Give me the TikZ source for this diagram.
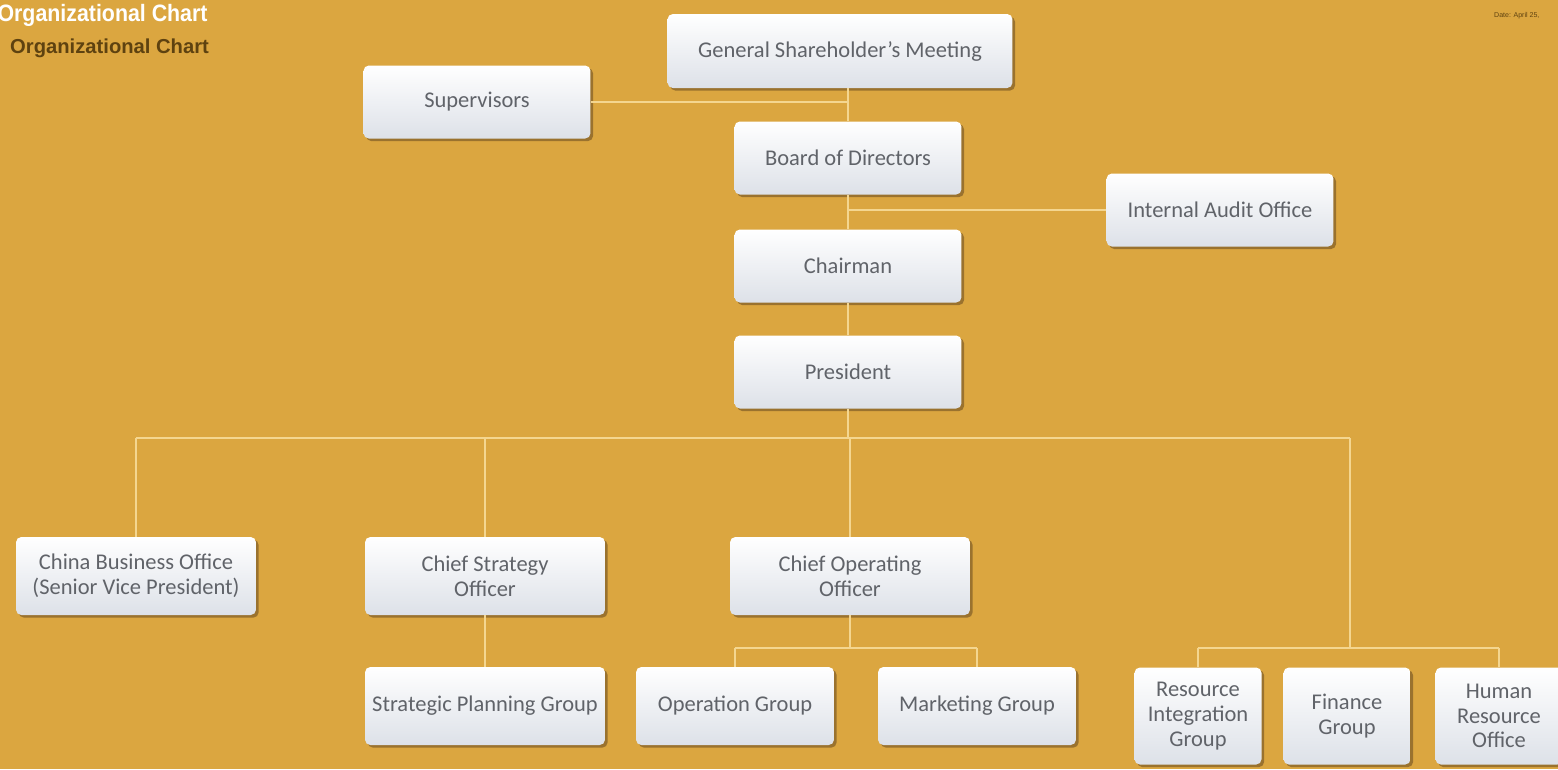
\documentclass[tikz,border=0pt]{standalone}
\usepackage{fontspec}
\setmainfont{Carlito}
\newfontfamily\headfont{Liberation Sans}
\usetikzlibrary{shadows}

\definecolor{bgorange}{HTML}{DBA640}
\definecolor{linkline}{HTML}{F4D690}
\definecolor{boxtext}{HTML}{606369}
\definecolor{boxshade}{HTML}{DDE1E8}
\definecolor{headbrown}{HTML}{5E4210}

\tikzset{
	orgbox/.style 2 args={rectangle, rounded corners=3pt, top color=white, bottom color=boxshade,
		drop shadow={shadow xshift=1.5pt, shadow yshift=-1.5pt, opacity=.45, fill=black!60!brown},
		minimum width=#1, minimum height=#2, inner sep=0pt, align=center, text=boxtext,
		font=\fontsize{12.8}{14}\selectfont},
	link/.style={draw=linkline, line width=.9pt},
}

\begin{document}
\begin{tikzpicture}[x=.02cm,y=-.02cm]
		\fill[bgorange] (0,0) rectangle (1558,769);
		\useasboundingbox (0,0) rectangle (1558,769);
		\node[anchor=west, text=white, font=\headfont\bfseries\fontsize{13.5}{15}\selectfont, xscale=.9] (title) at (-8,15){Organizational Chart};
		\node[anchor=west, text=headbrown, font=\headfont\bfseries\fontsize{11.5}{13}\selectfont] (subtitle) at (4,48){Organizational Chart};
		\node[anchor=west, text=headbrown, font=\headfont\fontsize{4}{5}\selectfont] (date) at (1488,16){Date: April 25,};
		%%%%%%%%%%%%%%%%%%%%%%%%%%%%%%%%%
		\node[orgbox={6.9cm}{1.48cm}] (gsm) at (840,51){General Shareholder's Meeting};
		\node[orgbox={4.54cm}{1.46cm}] (sup) at (477,102){Supervisors};
		\node[orgbox={4.54cm}{1.46cm}] (board) at (848,158){Board of Directors};
		\node[orgbox={4.54cm}{1.46cm}] (audit) at (1220,210){Internal Audit Office};
		\node[orgbox={4.54cm}{1.46cm}] (chair) at (848,266){Chairman};
		\node[orgbox={4.54cm}{1.46cm}] (pres) at (848,372){President};
		%%%%%%%%%%%%%%%%%%%%%%%%%%%%%%%%%
		\node[orgbox={4.8cm}{1.56cm}] (china) at (136,576){China Business Office\\(Senior Vice President)};
		\node[orgbox={4.8cm}{1.56cm}] (cso) at (485,576){Chief Strategy\\Officer};
		\node[orgbox={4.8cm}{1.56cm}] (coo) at (850,576){Chief Operating\\Officer};
		\node[orgbox={4.8cm}{1.56cm}] (spg) at (485,706){Strategic Planning Group};
		\node[orgbox={3.96cm}{1.56cm}] (opg) at (735,706){Operation Group};
		\node[orgbox={3.96cm}{1.56cm}] (mkt) at (977,706){Marketing Group};
		\node[orgbox={2.54cm}{1.94cm}] (rig) at (1198,716){Resource\\Integration\\Group};
		\node[orgbox={2.54cm}{1.94cm}] (fin) at (1347,716){Finance\\Group};
		\node[orgbox={2.54cm}{1.94cm}] (hro) at (1499,716){Human\\Resource\\Office};
		%%%%%%%%%%%%%%%%%%%%%%%%%%%%%%%%%
		\coordinate (busL) at (136,438);
		\coordinate (busR) at (1350,438);
		\coordinate (opsbus) at (850,648);
		\coordinate (grpbus) at (1350,648);
		\draw[link] (gsm.south -| board.north) -- (board.north);
		\draw[link] (sup.east) -- (sup.east -| board.north);
		\draw[link] (board.south) -- (chair.north);
		\draw[link] (audit.west) -- (audit.west -| board.south);
		\draw[link] (chair.south) -- (pres.north);
		\draw[link] (pres.south) -- (pres.south |- busL);
		\draw[link] (busL) -- (busR);
		\draw[link] (busL) -- (china.north);
		\draw[link] (cso.north |- busL) -- (cso.north);
		\draw[link] (coo.north |- busL) -- (coo.north);
		\draw[link] (cso.south) -- (spg.north);
		%%%%%%%%%%%%%%%%%%%%%%%%%%%%%%%%%
		\draw[link] (coo.south) -- (opsbus);
		\draw[link] (opsbus -| opg.north) -- (opsbus -| mkt.north);
		\draw[link] (opsbus -| opg.north) -- (opg.north);
		\draw[link] (opsbus -| mkt.north) -- (mkt.north);
		\draw[link] (busR) -- (grpbus);
		\draw[link] (grpbus -| rig.north) -- (grpbus -| hro.north);
		\draw[link] (grpbus -| rig.north) -- (rig.north);
		\draw[link] (grpbus -| hro.north) -- (hro.north);
	\end{tikzpicture}
\end{document}
